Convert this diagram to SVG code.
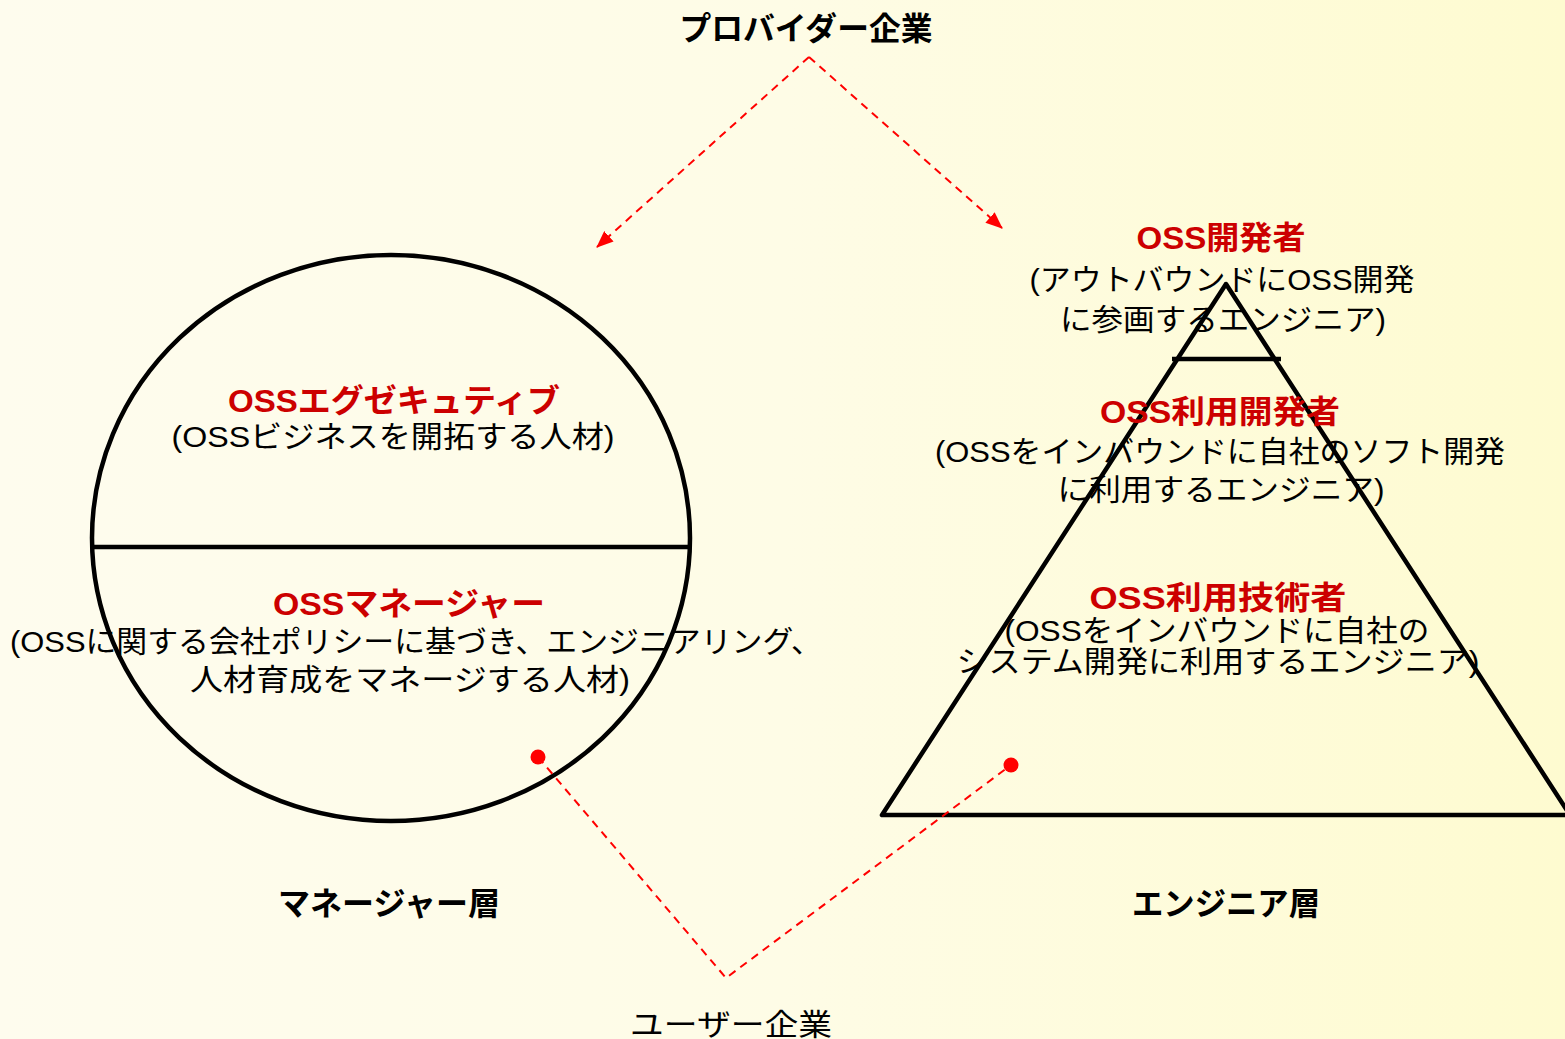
<svg xmlns="http://www.w3.org/2000/svg" width="1565" height="1039" viewBox="0 0 1565 1039">
<defs>
<linearGradient id="bg" x1="0" y1="0" x2="1" y2="0">
<stop offset="0" stop-color="#fefcee"/>
<stop offset="0.5" stop-color="#fefce6"/>
<stop offset="1" stop-color="#fefbd0"/>
</linearGradient>
<marker id="arr" markerUnits="userSpaceOnUse" markerWidth="18" markerHeight="14" refX="16" refY="7" orient="auto">
<path d="M0,0 L17,7 L0,14 Z" fill="#ff0000"/>
</marker>
<style>
text{font-family:"Liberation Sans","Noto Sans CJK JP",sans-serif;text-anchor:middle}
.body{font-size:30px;fill:#000}
.head{font-size:32px;font-weight:bold;fill:#cc0000}
.label{font-size:32px;font-weight:bold;fill:#000}
.shape{fill:none;stroke:#000;stroke-width:4.5;stroke-linejoin:round}
.dash{fill:none;stroke:#ff0000;stroke-width:2;stroke-dasharray:8 6}
.dot{fill:#ff0000}
</style>
</defs>
<rect width="1565" height="1039" fill="url(#bg)"/>

<g id="manager-layer">
<ellipse class="shape" cx="391" cy="538" rx="299" ry="283"/>
<line class="shape" x1="92" y1="547" x2="690" y2="547"/>
</g>

<g id="oss-executive">
<text class="head" x="394" y="412" textLength="332" lengthAdjust="spacingAndGlyphs">OSSエグゼキュティブ</text>
<text class="body" x="393" y="447" textLength="443" lengthAdjust="spacingAndGlyphs">(OSSビジネスを開拓する人材)</text>
</g>

<g id="oss-manager">
<text class="head" x="409" y="615" textLength="272" lengthAdjust="spacingAndGlyphs">OSSマネージャー</text>
<text class="body" x="416" y="652" textLength="812" lengthAdjust="spacingAndGlyphs">(OSSに関する会社ポリシーに基づき、エンジニアリング、</text>
<text class="body" x="410" y="690" textLength="440" lengthAdjust="spacingAndGlyphs">人材育成をマネージする人材)</text>
</g>

<g id="engineer-layer">
<path class="shape" d="M1226,284 L882,815 L1570,815 Z"/>
<line class="shape" x1="1172" y1="359" x2="1281" y2="359"/>
</g>

<g id="oss-developer">
<text class="head" x="1221" y="249" textLength="169" lengthAdjust="spacingAndGlyphs">OSS開発者</text>
<text class="body" x="1222" y="290" textLength="385" lengthAdjust="spacingAndGlyphs">(アウトバウンドにOSS開発</text>
<text class="body" x="1223" y="330" textLength="326" lengthAdjust="spacingAndGlyphs">に参画するエンジニア)</text>
</g>

<g id="oss-use-developer">
<text class="head" x="1220" y="423" textLength="240" lengthAdjust="spacingAndGlyphs">OSS利用開発者</text>
<text class="body" x="1220" y="462" textLength="570" lengthAdjust="spacingAndGlyphs">(OSSをインバウンドに自社のソフト開発</text>
<text class="body" x="1221" y="500" textLength="327" lengthAdjust="spacingAndGlyphs">に利用するエンジニア)</text>
</g>

<g id="oss-use-engineer">
<text class="head" x="1218" y="609" textLength="257" lengthAdjust="spacingAndGlyphs">OSS利用技術者</text>
<text class="body" x="1217" y="641" textLength="425" lengthAdjust="spacingAndGlyphs">(OSSをインバウンドに自社の</text>
<text class="body" x="1218" y="672" textLength="523" lengthAdjust="spacingAndGlyphs">システム開発に利用するエンジニア)</text>
</g>

<g id="provider">
<text class="label" x="806" y="40" textLength="253" lengthAdjust="spacingAndGlyphs">プロバイダー企業</text>
</g>

<g id="user">
<text class="body" x="731" y="1035" textLength="202" lengthAdjust="spacingAndGlyphs">ユーザー企業</text>
</g>

<g id="manager-label">
<text class="label" x="389" y="915" textLength="222" lengthAdjust="spacingAndGlyphs">マネージャー層</text>
</g>

<g id="engineer-label">
<text class="label" x="1226" y="915" textLength="188" lengthAdjust="spacingAndGlyphs">エンジニア層</text>
</g>

<g id="connectors">
<line class="dash" x1="809" y1="57" x2="597" y2="247" marker-end="url(#arr)"/>
<line class="dash" x1="809" y1="57" x2="1002" y2="228" marker-end="url(#arr)"/>
<polyline class="dash" points="538,757 726,978 1011,765"/>
<circle class="dot" cx="538" cy="757" r="7.5"/>
<circle class="dot" cx="1011" cy="765" r="7.5"/>
</g>
</svg>
